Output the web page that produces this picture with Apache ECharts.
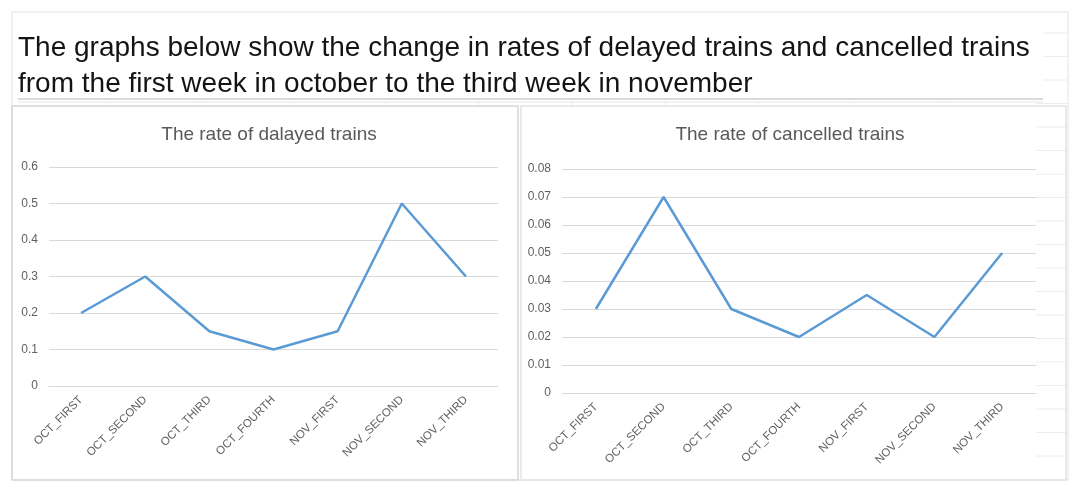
<!DOCTYPE html>
<html>
<head>
<meta charset="utf-8">
<script src="https://cdn.jsdelivr.net/npm/echarts@6/dist/echarts.min.js"></script>
<style>
  html, body { margin: 0; padding: 0; background: #ffffff; }
  #chart { width: 1080px; height: 493px; }
</style>
</head>
<body>
<div id="chart"></div>
<script>
const categories = ['OCT_FIRST', 'OCT_SECOND', 'OCT_THIRD', 'OCT_FOURTH', 'NOV_FIRST', 'NOV_SECOND', 'NOV_THIRD'];
const delayedRates = [0.2, 0.3, 0.15, 0.1, 0.15, 0.5, 0.3];
const cancelledRates = [0.03, 0.07, 0.03, 0.02, 0.035, 0.02, 0.05];
const mainTitle = 'The graphs below show the change in rates of delayed trains and cancelled trains\nfrom the first week in october to the third week in november';
const leftTitle = 'The rate of dalayed trains';
const rightTitle = 'The rate of cancelled trains';

const chart = echarts.init(document.getElementById('chart'), null, { renderer: 'canvas' });

const frameColor = '#e2e2e2';
const sheetLine = '#ececec';
const graphics = [];
// outer spreadsheet frame
graphics.push({ type: 'rect', shape: { x: 12, y: 12, width: 1056, height: 468 }, style: { fill: 'none', stroke: frameColor, lineWidth: 1 }, z: -10 });
// title underline (double)
graphics.push({ type: 'line', shape: { x1: 18, y1: 99, x2: 1043, y2: 99 }, style: { stroke: '#cfcfcf', lineWidth: 1.5 }, z: -5 });
graphics.push({ type: 'line', shape: { x1: 18, y1: 102, x2: 1043, y2: 102 }, style: { stroke: '#e6e6e6', lineWidth: 1 }, z: -5 });
// small spreadsheet column ticks under title line
for (let x = 107; x < 1043; x += 93) {
  graphics.push({ type: 'line', shape: { x1: x, y1: 102, x2: x, y2: 107 }, style: { stroke: sheetLine, lineWidth: 1 }, z: -6 });
}
// spreadsheet row lines at the right margin
for (let y = 33; y < 478; y += 23.5) {
  const x1 = y < 100 ? 1043 : 1036;
  graphics.push({ type: 'line', shape: { x1: x1, y1: y, x2: 1068, y2: y }, style: { stroke: sheetLine, lineWidth: 1 }, z: -6 });
}
// panels
graphics.push({ type: 'rect', shape: { x: 12, y: 106, width: 506, height: 374 }, style: { fill: 'none', stroke: '#d6d6d6', lineWidth: 1.5 }, z: -4 });
graphics.push({ type: 'rect', shape: { x: 521, y: 106, width: 545, height: 374 }, style: { fill: 'none', stroke: '#e4e4e4', lineWidth: 1.5 }, z: -4 });

const axisLabelColor = '#5f5f5f';
const gridLineColor = '#d9d9d9';

function xAxisFor(gridIndex) {
  return {
    type: 'category',
    gridIndex: gridIndex,
    data: categories,
    boundaryGap: true,
    axisLine: { show: true, lineStyle: { color: gridLineColor, width: 1 } },
    axisTick: { show: false },
    axisLabel: { interval: 0, rotate: 45, fontSize: 11.5, color: axisLabelColor, margin: 12, fontFamily: 'Liberation Sans, Arial, sans-serif' },
    splitLine: { show: false }
  };
}
function yAxisFor(gridIndex, max, interval) {
  return {
    type: 'value',
    gridIndex: gridIndex,
    min: 0,
    max: max,
    interval: interval,
    axisLine: { show: false },
    axisTick: { show: false },
    axisLabel: { fontSize: 12, color: axisLabelColor, margin: 11, fontFamily: 'Liberation Sans, Arial, sans-serif' },
    splitLine: { show: true, lineStyle: { color: gridLineColor, width: 1 } }
  };
}

const option = {
  backgroundColor: '#ffffff',
  animation: false,
  title: [
    {
      text: mainTitle,
      left: 13,
      top: 25,
      textStyle: { fontSize: 28, fontWeight: 'normal', color: '#141414', lineHeight: 36, fontFamily: 'Liberation Sans, Arial, sans-serif' }
    },
    {
      text: leftTitle,
      left: 264,
      textAlign: 'center',
      top: 120,
      textStyle: { fontSize: 19, fontWeight: 'normal', color: '#595959', fontFamily: 'Liberation Sans, Arial, sans-serif' }
    },
    {
      text: rightTitle,
      left: 785,
      textAlign: 'center',
      top: 120,
      textStyle: { fontSize: 19, fontWeight: 'normal', color: '#595959', fontFamily: 'Liberation Sans, Arial, sans-serif' }
    }
  ],
  grid: [
    { left: 49, right: 582, top: 167, bottom: 107, containLabel: false },
    { left: 562, right: 44, top: 169, bottom: 100, containLabel: false }
  ],
  xAxis: [xAxisFor(0), xAxisFor(1)],
  yAxis: [yAxisFor(0, 0.6, 0.1), yAxisFor(1, 0.08, 0.01)],
  series: [
    {
      type: 'line', xAxisIndex: 0, yAxisIndex: 0, data: delayedRates,
      showSymbol: false, symbol: 'none',
      lineStyle: { color: '#5b9bd5', width: 2.5 }, itemStyle: { color: '#5b9bd5' }
    },
    {
      type: 'line', xAxisIndex: 1, yAxisIndex: 1, data: cancelledRates,
      showSymbol: false, symbol: 'none',
      lineStyle: { color: '#5b9bd5', width: 2.5 }, itemStyle: { color: '#5b9bd5' }
    }
  ],
  graphic: graphics
};
chart.setOption(option);
</script>
</body>
</html>
